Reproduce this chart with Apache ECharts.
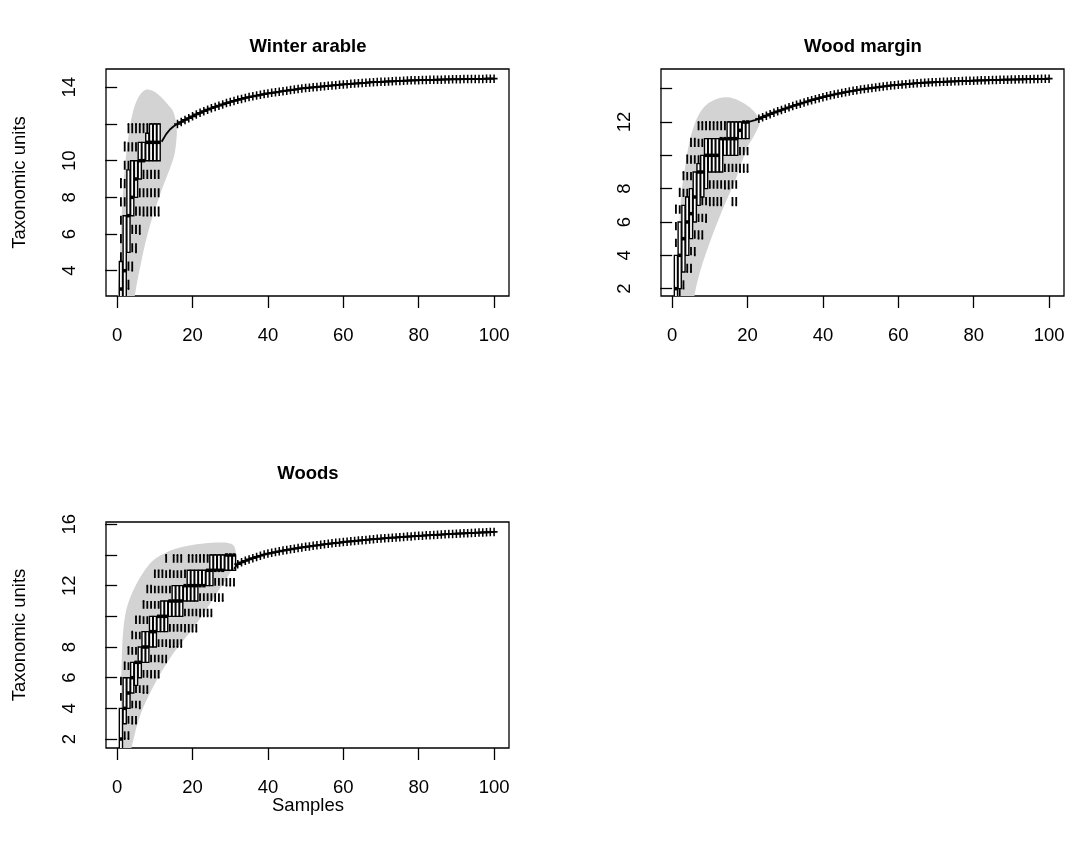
<!DOCTYPE html>
<html>
<head>
<meta charset="utf-8">
<script src="https://cdn.jsdelivr.net/npm/echarts@6/dist/echarts.min.js"></script>
<style>
html,body{margin:0;padding:0;background:#fff;}
#chart{width:1071px;height:849px;}
</style>
</head>
<body>
<div id="chart"></div>
<script>
// ---------------- DATA ----------------
const panelTitles = ['Winter arable', 'Wood margin', 'Woods'];
const xTicks = [0, 20, 40, 60, 80, 100];
const yTicks1 = [4, 6, 8, 10, 12, 14];
const yLabels1 = [4, 6, 8, 10, 14];
const yTicks2 = [2, 4, 6, 8, 10, 12, 14];
const yLabels2 = [2, 4, 6, 8, 12];
const yTicks3 = [2, 4, 6, 8, 10, 12, 14, 16];
const yLabels3 = [2, 4, 6, 8, 12, 16];

// boxplots: [min, q1, median, q3, max] for samples 1..N
const boxes1 = [
  [2, 2.5, 3, 4.5, 9], [2, 2.5, 4, 7, 11], [3, 5, 7, 9.5, 12], [4, 7, 8, 10, 12],
  [5, 8, 9, 10, 12], [6, 9, 10, 11, 12], [7, 10, 10, 11, 12], [7, 10, 11, 11.5, 12],
  [7, 10, 11, 12, 12], [7, 10, 11, 12, 12], [7, 10, 11, 12, 12]
];
const boxes2 = [
  [1, 1.5, 2, 4, 7], [1.5, 2, 4, 6, 8], [2, 3, 5, 7, 9], [3, 4, 6, 7.5, 10],
  [3, 5, 6.5, 8, 11], [4, 6, 7.5, 9, 11], [5, 7, 9, 9.5, 12], [5, 7.5, 9, 10, 12],
  [6, 8, 10, 11, 12], [7, 9, 10, 11, 12], [7, 9, 10, 11, 12], [7, 9, 10, 11, 12],
  [7, 9, 11, 11, 12], [8, 10, 11, 11, 12], [8, 10, 11, 12, 12], [7, 10, 11, 12, 12],
  [7, 10, 11, 12, 12], [9, 11, 11.5, 12, 12], [9, 11, 12, 12, 12], [9, 11, 12, 12, 12]
];
const boxes3 = [
  [1, 1, 2, 4, 6], [2, 3, 4, 6, 7], [2, 4, 5, 6, 8], [3, 5, 6, 7, 9],
  [3, 5.5, 7, 7, 10], [4, 6, 7, 8, 10], [5, 7, 8, 9, 11], [5, 7, 8, 9, 12],
  [6, 8, 9, 10, 12], [6, 8, 9, 10, 13], [6, 9, 10, 10, 13], [7, 9, 10, 11, 13],
  [7, 9, 10, 11, 14], [8, 10, 11, 11, 13], [8, 10, 11, 12, 14], [8, 10, 11, 12, 14],
  [8, 10, 11, 12, 14], [9, 11, 12, 12, 13], [9, 11, 12, 13, 14], [9, 11, 12, 13, 14],
  [9, 11, 12, 13, 14], [10, 12, 12, 13, 14], [10, 12, 12, 13, 14], [10, 12, 13, 13, 14],
  [10, 12, 13, 14, 14], [11, 13, 13, 14, 14], [11, 13, 13, 14, 14], [11, 13, 13, 14, 14],
  [12, 13, 14, 14, 14], [12, 13, 14, 14, 14], [12, 13, 14, 14, 14]
];

// grey confidence polygons (ring of points)
const poly1X = [0.6, 0.7, 1.2, 2.0, 2.9, 4.0, 5.5, 7.4, 9.5, 11.5, 13.5, 14.9, 15.8, 15.6, 14.9, 11.3, 8.2, 6.0, 4.7, 4.4];
const poly1Y = [2.0, 4.5, 7.0, 9.5, 11.2, 12.5, 13.4, 13.85, 13.8, 13.5, 13.05, 12.67, 11.76, 10.9, 10.1, 8.1, 6.1, 4.1, 2.66, 2.0];
const poly2X = [1.4, 1.6, 2.0, 2.6, 3.4, 4.4, 5.6, 7.2, 9.1, 11.5, 14.0, 16.5, 18.9, 21.0, 22.4, 23.3, 22.0, 20.0, 16.9, 13.3, 10.2, 7.5, 6.0, 5.5];
const poly2Y = [1.0, 2.24, 6.24, 8.0, 9.24, 10.6, 11.64, 12.5, 13.04, 13.35, 13.48, 13.4, 13.14, 12.8, 12.44, 12.04, 11.3, 10.5, 8.6, 6.7, 4.9, 3.1, 1.7, 1.0];
const poly3X = [1.1, 1.1, 1.16, 2.05, 4.3, 8.7, 12.5, 17.5, 23.0, 28.2, 30.5, 31.3, 31.5, 30.8, 26.4, 21.1, 14.9, 9.6, 6.0, 3.8, 3.6];
const poly3Y = [1.0, 4.1, 6.72, 9.97, 11.7, 13.44, 14.1, 14.53, 14.75, 14.81, 14.7, 14.42, 13.8, 13.22, 11.49, 9.54, 7.59, 5.42, 3.47, 1.41, 1.0];

// connecting segments from the last box to the extrapolated curve
const bridge1X = [11.8, 13, 14, 15, 16];
const bridge1Y = [11.03, 11.45, 11.7, 11.88, 12.0];
const bridge2X = [20, 21, 22, 23];
const bridge2Y = [12.0, 12.05, 12.11, 12.19];
const bridge3X = [31, 32];
const bridge3Y = [13.1, 13.4];

// extrapolated curves ("+" markers), one value per sample count
const fit1Start = 16;
const fit1 = [12.00, 12.11, 12.22, 12.32, 12.42, 12.52, 12.61, 12.70, 12.78, 12.86,
  12.93, 13.00, 13.07, 13.14, 13.20, 13.26, 13.32, 13.37, 13.42, 13.47,
  13.51, 13.55, 13.59, 13.63, 13.67, 13.70, 13.73, 13.76, 13.79, 13.82,
  13.85, 13.88, 13.91, 13.94, 13.96, 13.98, 14.00, 14.02, 14.04, 14.06,
  14.08, 14.10, 14.12, 14.14, 14.16, 14.17, 14.19, 14.21, 14.22, 14.24,
  14.25, 14.27, 14.28, 14.29, 14.30, 14.31, 14.32, 14.33, 14.34, 14.35,
  14.36, 14.37, 14.38, 14.38, 14.39, 14.40, 14.40, 14.41, 14.41, 14.42,
  14.42, 14.43, 14.43, 14.44, 14.44, 14.44, 14.45, 14.45, 14.45, 14.46,
  14.46, 14.46, 14.47, 14.47, 14.47];
const fit2Start = 23;
const fit2 = [12.19, 12.29, 12.38, 12.47, 12.56, 12.64, 12.72, 12.80, 12.88, 12.96,
  13.03, 13.10, 13.17, 13.24, 13.31, 13.37, 13.43, 13.49, 13.55, 13.60,
  13.65, 13.70, 13.74, 13.79, 13.83, 13.87, 13.91, 13.95, 13.98, 14.01,
  14.04, 14.07, 14.10, 14.13, 14.16, 14.19, 14.21, 14.23, 14.25, 14.27,
  14.29, 14.31, 14.33, 14.34, 14.36, 14.37, 14.38, 14.39, 14.40, 14.41,
  14.42, 14.43, 14.44, 14.45, 14.46, 14.47, 14.47, 14.48, 14.49, 14.50,
  14.50, 14.51, 14.52, 14.52, 14.53, 14.54, 14.54, 14.55, 14.55, 14.56,
  14.56, 14.57, 14.57, 14.58, 14.58, 14.59, 14.59, 14.60];
const fit3Start = 32;
const fit3 = [13.40, 13.52, 13.62, 13.71, 13.79, 13.87, 13.95, 14.03,
  14.09, 14.14, 14.19, 14.24, 14.29, 14.33, 14.37, 14.41, 14.45, 14.49,
  14.53, 14.56, 14.60, 14.63, 14.66, 14.70, 14.73, 14.76, 14.79, 14.81,
  14.84, 14.87, 14.89, 14.91, 14.94, 14.96, 14.98, 15.01, 15.03, 15.05,
  15.07, 15.09, 15.11, 15.13, 15.14, 15.16, 15.18, 15.20, 15.21, 15.23,
  15.25, 15.26, 15.28, 15.29, 15.31, 15.32, 15.33, 15.35, 15.36, 15.37,
  15.39, 15.40, 15.41, 15.42, 15.43, 15.45, 15.46, 15.47, 15.48, 15.49, 15.50];

// ---------------- CHART ----------------
const FONT = '"Liberation Sans", Arial, Helvetica, sans-serif';
const FS = 18.5;
const chart = echarts.init(document.getElementById('chart'), null, {renderer: 'canvas'});

const panels = [
  {grid: {left: 106, top: 69, width: 403, height: 227}, yMin: 2.62, yMax: 15.0, yTicks: yTicks1, yLabels: yLabels1,
   boxes: boxes1, polyX: poly1X, polyY: poly1Y, bX: bridge1X, bY: bridge1Y, fitStart: fit1Start, fit: fit1},
  {grid: {left: 661, top: 69, width: 403, height: 227}, yMin: 1.56, yMax: 15.18, yTicks: yTicks2, yLabels: yLabels2,
   boxes: boxes2, polyX: poly2X, polyY: poly2Y, bX: bridge2X, bY: bridge2Y, fitStart: fit2Start, fit: fit2},
  {grid: {left: 106, top: 522, width: 403, height: 226}, yMin: 1.415, yMax: 16.15, yTicks: yTicks3, yLabels: yLabels3,
   boxes: boxes3, polyX: poly3X, polyY: poly3Y, bX: bridge3X, bY: bridge3Y, fitStart: fit3Start, fit: fit3}
];

const plusPath = 'path://M-0.22,-1 L0.22,-1 L0.22,-0.2 L1,-0.2 L1,0.2 L0.22,0.2 L0.22,1 L-0.22,1 L-0.22,0.2 L-1,0.2 L-1,-0.2 L-0.22,-0.2 Z';

const grids = [], xAxes = [], yAxes = [], series = [];
panels.forEach((p, i) => {
  grids.push(Object.assign({show: true, borderColor: '#000', borderWidth: 1.3, backgroundColor: 'transparent', containLabel: false}, p.grid));
  xAxes.push({
    type: 'value', gridIndex: i, min: -2.96, max: 103.96,
    axisLine: {show: false}, splitLine: {show: false},
    axisTick: {show: true, length: 12, customValues: xTicks, lineStyle: {color: '#000', width: 1.3}},
    axisLabel: {customValues: xTicks, fontSize: FS, fontFamily: FONT, color: '#000', margin: 30}
  });
  yAxes.push({
    type: 'value', gridIndex: i, min: p.yMin, max: p.yMax,
    axisLine: {show: false}, splitLine: {show: false},
    axisTick: {show: true, length: 12, customValues: p.yTicks, lineStyle: {color: '#000', width: 1.3}},
    axisLabel: {customValues: p.yLabels, rotate: 90, fontSize: FS, fontFamily: FONT, color: '#000', margin: 27}
  });
  // grey polygon
  series.push({
    type: 'custom', xAxisIndex: i, yAxisIndex: i, clip: true, z: 1, silent: true,
    data: [[p.polyX[0], p.polyY[0]]],
    renderItem: function (params, api) {
      const pts = p.polyX.map((x, j) => api.coord([x, p.polyY[j]]));
      return {type: 'polygon', shape: {points: pts, smooth: 0.35}, style: {fill: '#d3d3d3', stroke: null}};
    }
  });
  // boxplots
  series.push({
    type: 'custom', xAxisIndex: i, yAxisIndex: i, clip: true, z: 2, silent: true,
    encode: {x: 0, y: [1, 2, 3, 4, 5]},
    data: p.boxes.map((b, j) => [j + 1].concat(b)),
    renderItem: function (params, api) {
      const k = api.value(0);
      const mn = api.value(1), q1 = api.value(2), md = api.value(3), q3 = api.value(4), mx = api.value(5);
      const unit = api.size([1, 1]);
      const hw = unit[0] * 0.42, sw = unit[0] * 0.22;
      const pMin = api.coord([k, mn]), pQ1 = api.coord([k, q1]), pMd = api.coord([k, md]);
      const pQ3 = api.coord([k, q3]), pMx = api.coord([k, mx]);
      const dash = [unit[1] / 2, unit[1] / 2];
      const ls = {stroke: '#000', lineWidth: 1.8, fill: null};
      return {
        type: 'group',
        children: [
          {type: 'line', shape: {x1: pMx[0], y1: pMx[1], x2: pQ3[0], y2: pQ3[1]}, style: Object.assign({lineDash: dash}, ls)},
          {type: 'line', shape: {x1: pMin[0], y1: pMin[1], x2: pQ1[0], y2: pQ1[1]}, style: Object.assign({lineDash: dash}, ls)},
          {type: 'line', shape: {x1: pMx[0] - sw, y1: pMx[1], x2: pMx[0] + sw, y2: pMx[1]}, style: ls},
          {type: 'line', shape: {x1: pMin[0] - sw, y1: pMin[1], x2: pMin[0] + sw, y2: pMin[1]}, style: ls},
          {type: 'rect', shape: {x: pQ1[0] - hw, y: pQ3[1], width: 2 * hw, height: pQ1[1] - pQ3[1]},
           style: {fill: '#fff', stroke: '#000', lineWidth: 1.4}},
          {type: 'line', shape: {x1: pMd[0] - hw, y1: pMd[1], x2: pMd[0] + hw, y2: pMd[1]}, style: {stroke: '#000', lineWidth: 3.5}}
        ]
      };
    }
  });
  // bridge line
  series.push({
    type: 'line', xAxisIndex: i, yAxisIndex: i, z: 3, silent: true, symbol: 'none',
    data: p.bX.map((x, j) => [x, p.bY[j]]),
    lineStyle: {color: '#000', width: 1.8}
  });
  // extrapolated curve with + markers
  series.push({
    type: 'line', xAxisIndex: i, yAxisIndex: i, z: 4, silent: true,
    data: p.fit.map((v, j) => [p.fitStart + j, v]),
    symbol: plusPath, symbolSize: [7, 8.5], showSymbol: true, showAllSymbol: true,
    itemStyle: {color: '#000'}, lineStyle: {color: '#000', width: 1.8}
  });
});

const textStyle = (t, x, y, size, bold, rot) => ({
  type: 'text', x: x, y: y, rotation: rot || 0, silent: true,
  style: {text: t, fill: '#000', font: (bold ? 'bold ' : '') + size + 'px ' + FONT, textAlign: 'center', textVerticalAlign: 'middle'}
});

chart.setOption({
  animation: false,
  backgroundColor: '#fff',
  grid: grids, xAxis: xAxes, yAxis: yAxes, series: series,
  graphic: [
    textStyle(panelTitles[0], 308, 47, FS, true),
    textStyle(panelTitles[1], 863, 47, FS, true),
    textStyle(panelTitles[2], 308, 474, FS, true),
    textStyle('Taxonomic units', 20, 182.5, FS, false, Math.PI / 2),
    textStyle('Taxonomic units', 20, 635, FS, false, Math.PI / 2),
    textStyle('Samples', 308, 806, FS, false)
  ]
});
</script>
</body>
</html>
